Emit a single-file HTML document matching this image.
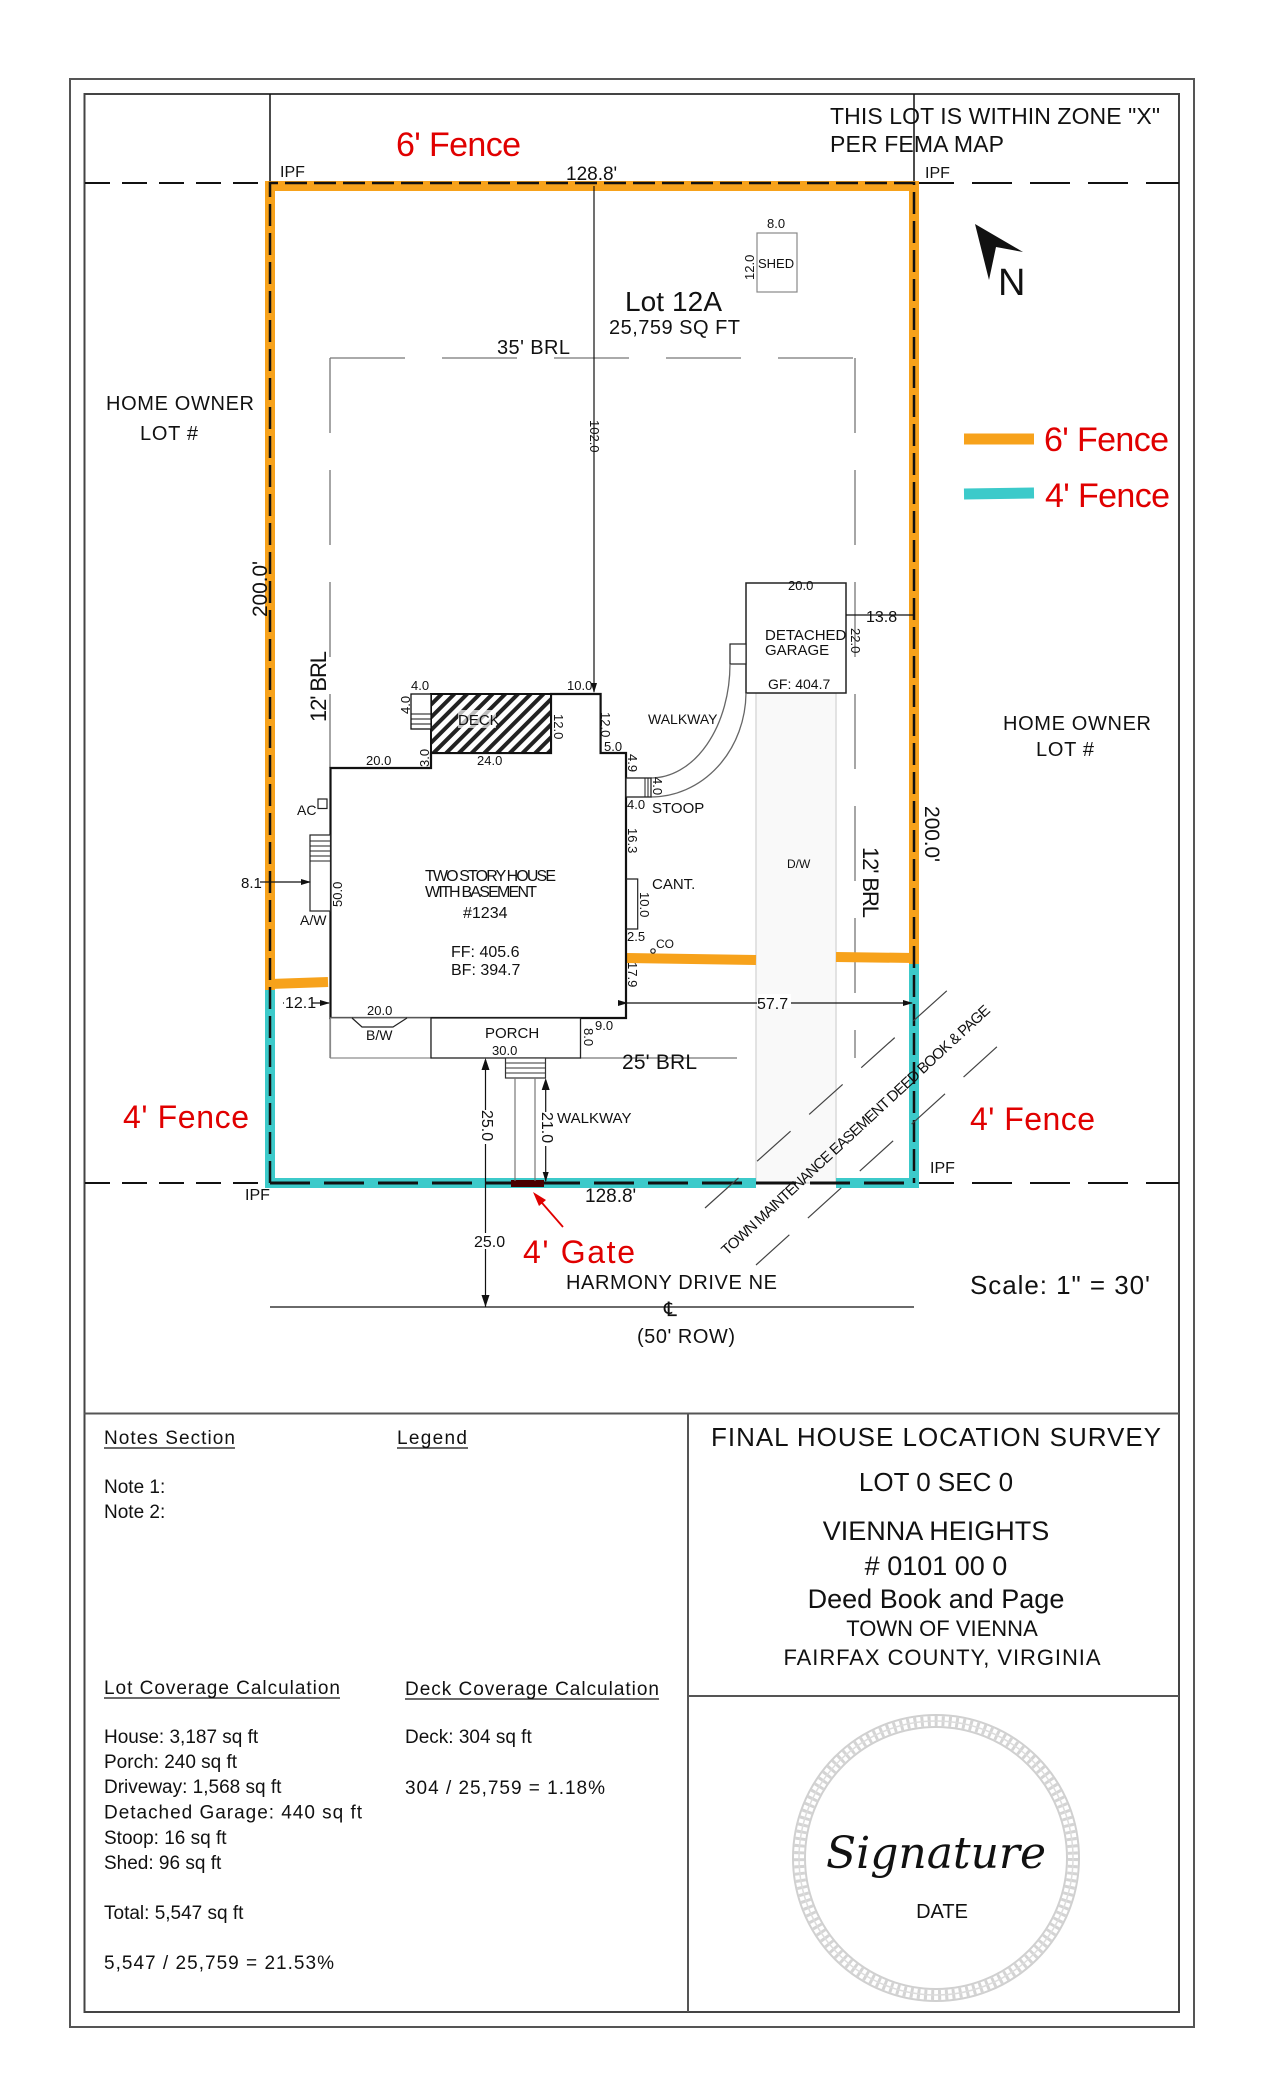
<!DOCTYPE html>
<html><head><meta charset="utf-8"><style>
html,body{margin:0;padding:0;background:#fff;}
svg{display:block;}
text{font-family:"Liberation Sans",Arial,sans-serif;fill:#111;}
.s{font-size:13px;}
.m{font-size:15px;}
</style></head><body>
<svg width="1275" height="2100" viewBox="0 0 1275 2100" xmlns="http://www.w3.org/2000/svg">
<defs>
<marker id="ar" markerWidth="10" markerHeight="8" refX="9" refY="4" orient="auto" markerUnits="userSpaceOnUse"><path d="M0,1 L10,4 L0,7 Z" fill="#111"/></marker>
<pattern id="hatch" width="9" height="9" patternUnits="userSpaceOnUse" patternTransform="rotate(45)"><rect width="9" height="9" fill="#fff"/><rect width="4" height="9" fill="#222"/></pattern>
</defs>
<rect x="70" y="79" width="1124" height="1948" fill="none" stroke="#555" stroke-width="2"/>
<rect x="84.5" y="94" width="1094.5" height="1918" fill="none" stroke="#444" stroke-width="2"/>
<line x1="84" y1="1413.5" x2="1179" y2="1413.5" stroke="#555" stroke-width="2"/>
<line x1="688" y1="1413.5" x2="688" y2="2012" stroke="#555" stroke-width="2"/>
<line x1="688" y1="1696" x2="1179" y2="1696" stroke="#555" stroke-width="2"/>

<line x1="270" y1="94" x2="270" y2="183" stroke="#111" stroke-width="1.5"/>
<line x1="914" y1="94" x2="914" y2="183" stroke="#111" stroke-width="1.5"/>

<line x1="85" y1="183" x2="270" y2="183" stroke="#111" stroke-width="2" stroke-dasharray="25 12"/>
<line x1="914" y1="183" x2="1179" y2="183" stroke="#111" stroke-width="2" stroke-dasharray="40 18"/>
<line x1="85" y1="1183" x2="270" y2="1183" stroke="#111" stroke-width="2" stroke-dasharray="25 12"/>
<line x1="914" y1="1183" x2="1179" y2="1183" stroke="#111" stroke-width="2" stroke-dasharray="40 18"/>

<rect x="756" y="693" width="80" height="490" fill="#f9f9f9" stroke="#dadada" stroke-width="1.5"/>

<g stroke="#777" stroke-width="1.3" fill="none" stroke-dasharray="75 37">
<line x1="330" y1="358" x2="855" y2="358"/>
<line x1="330" y1="358" x2="330" y2="768"/>
<line x1="855" y1="358" x2="855" y2="1058"/>
</g>
<line x1="580" y1="1058" x2="737" y2="1058" stroke="#777" stroke-width="1.3"/>
<line x1="330" y1="1018" x2="330" y2="1058" stroke="#777" stroke-width="1.3"/>

<g fill="none" stroke-width="10">
<polyline points="270,990 270,186 914,186 914,964" stroke="#f7a21b"/>
<line x1="270" y1="984" x2="328" y2="982" stroke="#f7a21b"/>
<line x1="626" y1="958" x2="756" y2="960" stroke="#f7a21b"/>
<line x1="836" y1="957" x2="914" y2="958" stroke="#f7a21b"/>
<polyline points="270,990 270,1183 756,1183" stroke="#3ccaca"/>
<polyline points="836,1183 914,1183 914,964" stroke="#3ccaca"/>
</g>
<g fill="none" stroke="#111" stroke-width="2.5" stroke-dasharray="22 7">
<polyline points="270,1183 270,183 914,183 914,1183"/>
<line x1="270" y1="1183" x2="914" y2="1183" stroke-width="3" stroke-dasharray="40 14"/>
</g>
<rect x="511" y="1180" width="33" height="7" fill="#4a0000"/>

<line x1="594" y1="186" x2="594" y2="692" stroke="#111" stroke-width="1.2" marker-end="url(#ar)"/>
<text class="s" transform="translate(590,420) rotate(90)">102.0</text>

<rect x="757" y="233" width="40" height="59" fill="#fff" stroke="#888" stroke-width="1.2"/>
<text class="s" x="767" y="228">8.0</text>
<text class="s" x="758" y="268" font-size="12">SHED</text>
<text class="s" transform="translate(754,280) rotate(-90)">12.0</text>

<polygon points="975,224 1023,252 996,247 989,280" fill="#111"/>
<text x="998" y="295" font-size="38">N</text>

<text x="396" y="156" font-size="34" textLength="125" style="fill:#e00000">6' Fence</text>
<text x="566" y="180" font-size="19">128.8'</text>
<text x="280" y="177" font-size="16">IPF</text>
<text x="925" y="178" font-size="16">IPF</text>
<text x="830" y="124" font-size="23" textLength="330">THIS LOT IS WITHIN ZONE "X"</text>
<text x="830" y="152" font-size="23" textLength="174">PER FEMA MAP</text>
<text x="625" y="311" font-size="28" textLength="97">Lot 12A</text>
<text x="609" y="334" font-size="20" textLength="131">25,759 SQ FT</text>
<text x="497" y="354" font-size="20" textLength="73">35' BRL</text>
<text x="106" y="410" font-size="20" textLength="148">HOME OWNER</text>
<text x="140" y="440" font-size="20" textLength="58">LOT #</text>
<text x="1003" y="730" font-size="20" textLength="148">HOME OWNER</text>
<text x="1036" y="756" font-size="20" textLength="58">LOT #</text>
<text transform="translate(267,617) rotate(-90)" font-size="21" textLength="56">200.0'</text>
<text transform="translate(326,722) rotate(-90)" font-size="22" textLength="71">12' BRL</text>
<text transform="translate(925,806) rotate(90)" font-size="21" textLength="56">200.0'</text>
<text transform="translate(863,847) rotate(90)" font-size="22" textLength="71">12' BRL</text>

<line x1="964" y1="439" x2="1034" y2="439" stroke="#f7a21b" stroke-width="11"/>
<line x1="964" y1="494" x2="1034" y2="493" stroke="#3ccaca" stroke-width="11"/>
<text x="1044" y="451" font-size="34" textLength="125" style="fill:#e00000">6' Fence</text>
<text x="1045" y="507" font-size="34" textLength="125" style="fill:#e00000">4' Fence</text>

<rect x="746" y="583" width="100" height="110" fill="#fff" stroke="#222" stroke-width="1.5"/>
<rect x="730" y="644" width="16" height="20" fill="#fff" stroke="#222" stroke-width="1.2"/>
<text class="s" x="788" y="590">20.0</text>
<text x="765" y="640" font-size="15">DETACHED</text>
<text x="765" y="655" font-size="15">GARAGE</text>
<text x="768" y="689" font-size="14">GF: 404.7</text>
<text class="s" transform="translate(851,628) rotate(90)">22.0</text>
<line x1="846" y1="615" x2="914" y2="615" stroke="#111" stroke-width="1.2"/>
<text x="866" y="622" font-size="16">13.8</text>

<path d="M651,778 A79,114 0 0 0 730,664" fill="none" stroke="#666" stroke-width="1.3"/>
<path d="M651,797 A95,105 0 0 0 746,693" fill="none" stroke="#666" stroke-width="1.3"/>
<text x="648" y="724" font-size="14">WALKWAY</text>

<polygon points="330.5,768 431,768 431,753 551,753 551,694 600.6,694 600.6,753 626,753 626,1018 330.5,1018" fill="#fff" stroke="#111" stroke-width="2.2"/>
<rect x="431" y="694" width="120" height="59" fill="url(#hatch)" stroke="#111" stroke-width="2"/>
<rect x="458" y="710" width="38" height="18" fill="#fff" opacity="0.7"/>
<text x="458" y="725" font-size="15">DECK</text>
<rect x="411" y="694" width="20" height="35" fill="#fff" stroke="#111" stroke-width="1.3"/>
<line x1="411" y1="714" x2="431" y2="714" stroke="#111"/><line x1="411" y1="719" x2="431" y2="719" stroke="#111"/><line x1="411" y1="724" x2="431" y2="724" stroke="#111"/>
<rect x="330.5" y="1018" width="100.5" height="40" fill="#fff" stroke="#888" stroke-width="1.2"/>
<rect x="431" y="1018" width="149.5" height="40" fill="#fff" stroke="#222" stroke-width="1.3"/>
<polyline points="352,1018 362,1027 393,1027 407,1018" fill="none" stroke="#222" stroke-width="1.2"/>
<rect x="505.5" y="1058" width="40" height="20" fill="#fff" stroke="#333" stroke-width="1.2"/>
<line x1="505.5" y1="1063" x2="545.5" y2="1063" stroke="#333"/><line x1="505.5" y1="1068" x2="545.5" y2="1068" stroke="#333"/><line x1="505.5" y1="1073" x2="545.5" y2="1073" stroke="#333"/>
<line x1="515" y1="1078" x2="515" y2="1181" stroke="#777" stroke-width="1.2"/>
<line x1="535" y1="1078" x2="535" y2="1181" stroke="#777" stroke-width="1.2"/>
<rect x="626" y="778" width="25" height="19" fill="#fff" stroke="#222" stroke-width="1.3"/>
<line x1="645" y1="778" x2="645" y2="797" stroke="#222"/><line x1="648" y1="778" x2="648" y2="797" stroke="#222"/>
<rect x="318" y="799" width="9" height="9.5" fill="#fff" stroke="#222" stroke-width="1.2"/>
<rect x="310" y="835" width="20.5" height="76" fill="#fff" stroke="#222" stroke-width="1.2"/>
<g stroke="#222" stroke-width="1"><line x1="310" y1="841" x2="330" y2="841"/><line x1="310" y1="846" x2="330" y2="846"/><line x1="310" y1="851" x2="330" y2="851"/><line x1="310" y1="856" x2="330" y2="856"/><line x1="310" y1="861" x2="330" y2="861"/></g>
<polyline points="626,879 637.7,879 637.7,929 626,929" fill="none" stroke="#222" stroke-width="1.2"/>
<circle cx="653" cy="951" r="2.2" fill="none" stroke="#222" stroke-width="1.2"/>

<text x="425" y="881" font-size="16" textLength="131">TWO STORY HOUSE</text>
<text x="425" y="897" font-size="16" textLength="112">WITH BASEMENT</text>
<text x="463" y="918" font-size="16">#1234</text>
<text x="451" y="957" font-size="16">FF: 405.6</text>
<text x="451" y="975" font-size="16">BF: 394.7</text>
<text class="s" x="411" y="690">4.0</text>
<text class="s" transform="translate(410,714) rotate(-90)">4.0</text>
<text class="s" x="567" y="690">10.0</text>
<text class="s" transform="translate(554,714) rotate(90)">12.0</text>
<text class="s" transform="translate(601,712) rotate(90)">12.0</text>
<text class="s" x="604" y="751">5.0</text>
<text class="s" x="366" y="765">20.0</text>
<text class="s" transform="translate(429,767) rotate(-90)">3.0</text>
<text class="s" x="477" y="765">24.0</text>
<text class="s" transform="translate(628,754) rotate(90)">4.9</text>
<text class="s" transform="translate(653,777) rotate(90)">4.0</text>
<text class="s" x="627" y="809">4.0</text>
<text x="652" y="813" font-size="15">STOOP</text>
<text class="s" transform="translate(628,828) rotate(90)">16.3</text>
<text x="652" y="889" font-size="15">CANT.</text>
<text class="s" transform="translate(640,892) rotate(90)">10.0</text>
<text class="s" x="627" y="941">2.5</text>
<text x="656" y="948" font-size="12">CO</text>
<text class="s" transform="translate(628,962) rotate(90)">17.9</text>
<text class="s" transform="translate(342,907) rotate(-90)">50.0</text>
<text x="297" y="815" font-size="14">AC</text>
<text x="300" y="925" font-size="14">A/W</text>
<text x="241" y="888" font-size="15">8.1</text>
<line x1="260" y1="882" x2="310" y2="882" stroke="#111" stroke-width="1.2" marker-end="url(#ar)"/>
<line x1="283" y1="1003" x2="329" y2="1003" stroke="#111" stroke-width="1.2" marker-end="url(#ar)"/>
<rect x="284" y="995" width="28" height="14" fill="#fff"/>
<text x="285" y="1008" font-size="16">12.1</text>
<line x1="627" y1="1003" x2="912" y2="1003" stroke="#111" stroke-width="1.2" marker-end="url(#ar)" marker-start="url(#ar)"/>
<rect x="757" y="994" width="34" height="14" fill="#fff"/>
<text x="757" y="1009" font-size="16">57.7</text>
<text class="s" x="367" y="1015">20.0</text>
<text x="366" y="1040" font-size="14">B/W</text>
<text x="485" y="1038" font-size="15">PORCH</text>
<text class="s" x="492" y="1055">30.0</text>
<text class="s" x="595" y="1030">9.0</text>
<text class="s" transform="translate(584,1028) rotate(90)">8.0</text>
<text x="622" y="1069" font-size="21" textLength="75">25' BRL</text>
<text x="787" y="868" font-size="12">D/W</text>

<line x1="485.5" y1="1060" x2="485.5" y2="1307" stroke="#111" stroke-width="1.2"/>
<path d="M481.5,1070 L485.5,1058 L489.5,1070 Z M481.5,1295 L485.5,1307 L489.5,1295 Z" fill="#111"/>
<line x1="545.7" y1="1080" x2="545.7" y2="1181" stroke="#111" stroke-width="1.2" marker-end="url(#ar)"/>
<path d="M541.7,1090 L545.7,1078 L549.7,1090 Z" fill="#111"/>
<rect x="478" y="1110" width="16" height="34" fill="#fff"/>
<text transform="translate(482,1110) rotate(90)" font-size="16">25.0</text>
<rect x="538" y="1112" width="16" height="34" fill="#fff"/>
<text transform="translate(542,1112) rotate(90)" font-size="16">21.0</text>
<text x="557" y="1123" font-size="15">WALKWAY</text>
<rect x="476" y="1233" width="20" height="16" fill="#fff"/>
<text x="474" y="1247" font-size="16">25.0</text>

<g stroke="#444" stroke-width="1.2" stroke-dasharray="45 25">
<line x1="705" y1="1208" x2="960" y2="979"/>
<line x1="756" y1="1265" x2="1010" y2="1035"/>
</g>
<text transform="translate(727,1256) rotate(-42.8)" font-size="15" textLength="360">TOWN MAINTENANCE EASEMENT  DEED BOOK &amp; PAGE</text>

<text x="123" y="1128" font-size="32" textLength="126" style="fill:#e00000">4' Fence</text>
<text x="970" y="1130" font-size="32" textLength="125" style="fill:#e00000">4' Fence</text>
<text x="245" y="1200" font-size="16">IPF</text>
<text x="930" y="1173" font-size="16">IPF</text>
<text x="585" y="1202" font-size="19">128.8'</text>
<line x1="563" y1="1227" x2="536" y2="1196" stroke="#e00000" stroke-width="1.8"/>
<polygon points="533,1192 546,1200 539,1206" fill="#e00000"/>
<text x="523" y="1263" font-size="32" textLength="112" style="fill:#e00000">4' Gate</text>
<text x="566" y="1289" font-size="20" textLength="211">HARMONY DRIVE NE</text>
<line x1="270" y1="1307" x2="914" y2="1307" stroke="#111" stroke-width="1.3"/>
<text x="664" y="1316" font-size="20">℄</text>
<text x="637" y="1343" font-size="20" textLength="98">(50' ROW)</text>
<text x="970" y="1294" font-size="26" textLength="180">Scale: 1" = 30'</text>

<text x="104" y="1444" font-size="19" textLength="131">Notes Section</text>
<line x1="104" y1="1448" x2="235" y2="1448" stroke="#111" stroke-width="1.2"/>
<text x="397" y="1444" font-size="19" textLength="70">Legend</text>
<line x1="397" y1="1448" x2="468" y2="1448" stroke="#111" stroke-width="1.2"/>
<text x="104" y="1493" font-size="19">Note 1:</text>
<text x="104" y="1518" font-size="19">Note 2:</text>
<text x="104" y="1694" font-size="19" textLength="236">Lot Coverage Calculation</text>
<line x1="104" y1="1698" x2="340" y2="1698" stroke="#111" stroke-width="1.2"/>
<text x="405" y="1695" font-size="19" textLength="254">Deck Coverage Calculation</text>
<line x1="405" y1="1699" x2="659" y2="1699" stroke="#111" stroke-width="1.2"/>
<g font-size="19">
<text x="104" y="1743">House: 3,187 sq ft</text>
<text x="104" y="1768">Porch: 240 sq ft</text>
<text x="104" y="1793">Driveway: 1,568 sq ft</text>
<text x="104" y="1818.5" textLength="258">Detached Garage: 440 sq ft</text>
<text x="104" y="1844">Stoop: 16 sq ft</text>
<text x="104" y="1869">Shed: 96 sq ft</text>
<text x="104" y="1919">Total: 5,547 sq ft</text>
<text x="104" y="1969" textLength="230">5,547 / 25,759 = 21.53%</text>
<text x="405" y="1743">Deck: 304 sq ft</text>
<text x="405" y="1794" textLength="200">304 / 25,759 = 1.18%</text>
</g>
<g text-anchor="middle">
<text x="936" y="1446" font-size="26" textLength="450">FINAL HOUSE LOCATION SURVEY</text>
<text x="936" y="1491" font-size="26">LOT 0 SEC 0</text>
<text x="936" y="1540" font-size="27">VIENNA HEIGHTS</text>
<text x="936" y="1575" font-size="27"># 0101 00 0</text>
<text x="936" y="1608" font-size="27">Deed Book and Page</text>
<text x="942" y="1636" font-size="22">TOWN OF VIENNA</text>
<text x="942" y="1665" font-size="22" textLength="317">FAIRFAX COUNTY, VIRGINIA</text>
</g>
<circle cx="936" cy="1858" r="143" fill="none" stroke="#d0d0d0" stroke-width="2"/>
<circle cx="936" cy="1858" r="131" fill="none" stroke="#d0d0d0" stroke-width="2"/>
<circle cx="936" cy="1858" r="137" fill="none" stroke="#d4d4d4" stroke-width="10" stroke-dasharray="3 4"/>
<circle cx="936" cy="1858" r="137" fill="none" stroke="#dcdcdc" stroke-width="1.5"/>
<text x="936" y="1868" text-anchor="middle" font-size="44" font-style="italic" textLength="220" style="font-family:'DejaVu Serif','Liberation Serif',serif;">Signature</text>
<text x="942" y="1918" text-anchor="middle" font-size="20">DATE</text>
</svg>
</body></html>
